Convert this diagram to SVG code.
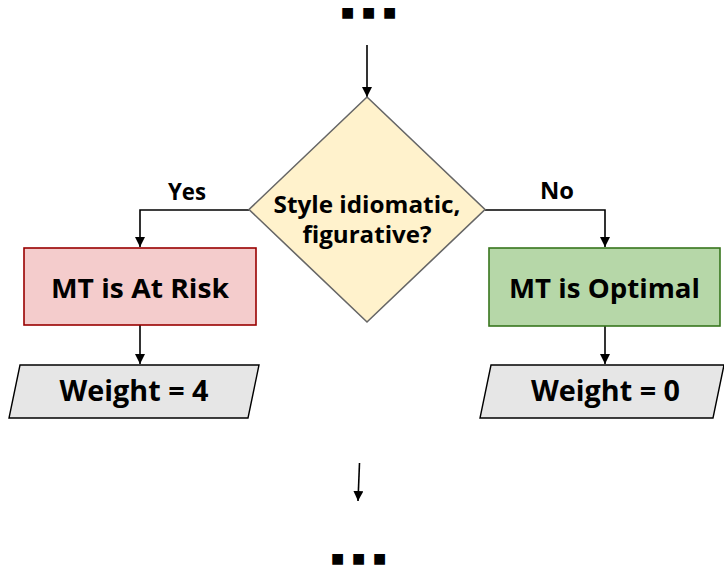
<svg xmlns="http://www.w3.org/2000/svg" width="724" height="570" viewBox="0 0 724 570">
<defs>
<marker id="arr" viewBox="0 0 10 10" refX="10" refY="5" markerWidth="10" markerHeight="10" markerUnits="userSpaceOnUse" orient="auto">
<path d="M0,0 L10,5 L0,10 z" fill="#000"/>
</marker>
</defs>
<style>
text{font-family:"Open Sans","Liberation Sans",sans-serif;font-weight:bold;fill:#000;text-anchor:middle}
.edge{fill:none;stroke:#000;stroke-width:1.6;marker-end:url(#arr)}
.dots{font-family:"DejaVu Sans",sans-serif;font-weight:normal;font-size:14px;text-anchor:start}
</style>
<rect width="724" height="570" fill="#fff"/>
<text class="dots" x="341 362 383" y="17">■■■</text>
<text class="dots" x="331 352 373" y="563">■■■</text>
<g id="connectors">
<path class="edge" d="M367,45 V97"/>
<path class="edge" d="M249,210 H140 V247"/>
<path class="edge" d="M485,210 H605 V247"/>
<path class="edge" d="M140,325 V364"/>
<path class="edge" d="M605,326 V364"/>
<path class="edge" d="M359.5,463 L358,501"/>
<text x="187" y="200" font-size="23" textLength="38" lengthAdjust="spacingAndGlyphs">Yes</text>
<text x="557" y="199" font-size="23" textLength="34" lengthAdjust="spacingAndGlyphs">No</text>
</g>
<g id="decision">
<polygon points="367,97 485,209.5 367,322 249,209.5" fill="#fff2cc" stroke="#666" stroke-width="1.6"/>
<text x="367" y="213" font-size="22.5" textLength="187" lengthAdjust="spacingAndGlyphs">Style idiomatic,</text>
<text x="367" y="243" font-size="22.5" textLength="129" lengthAdjust="spacingAndGlyphs">figurative?</text>
</g>
<g id="atrisk">
<rect x="24" y="248" width="232" height="77" fill="#f4cccc" stroke="#990000" stroke-width="1.6"/>
<text x="140" y="298" font-size="27" textLength="178" lengthAdjust="spacingAndGlyphs">MT is At Risk</text>
</g>
<g id="optimal">
<rect x="489" y="248" width="231" height="78" fill="#b6d7a8" stroke="#38761d" stroke-width="1.6"/>
<text x="604.5" y="298" font-size="27" textLength="191" lengthAdjust="spacingAndGlyphs">MT is Optimal</text>
</g>
<g id="weight4">
<polygon points="20,365 259,365 248,418 9,418" fill="#e6e6e6" stroke="#000" stroke-width="1.4"/>
<text x="134" y="401" font-size="29" textLength="149" lengthAdjust="spacingAndGlyphs">Weight = 4</text>
</g>
<g id="weight0">
<polygon points="491,365 724,365 713,418 480,418" fill="#e6e6e6" stroke="#000" stroke-width="1.4"/>
<text x="605.5" y="401" font-size="29" textLength="149" lengthAdjust="spacingAndGlyphs">Weight = 0</text>
</g>
</svg>
